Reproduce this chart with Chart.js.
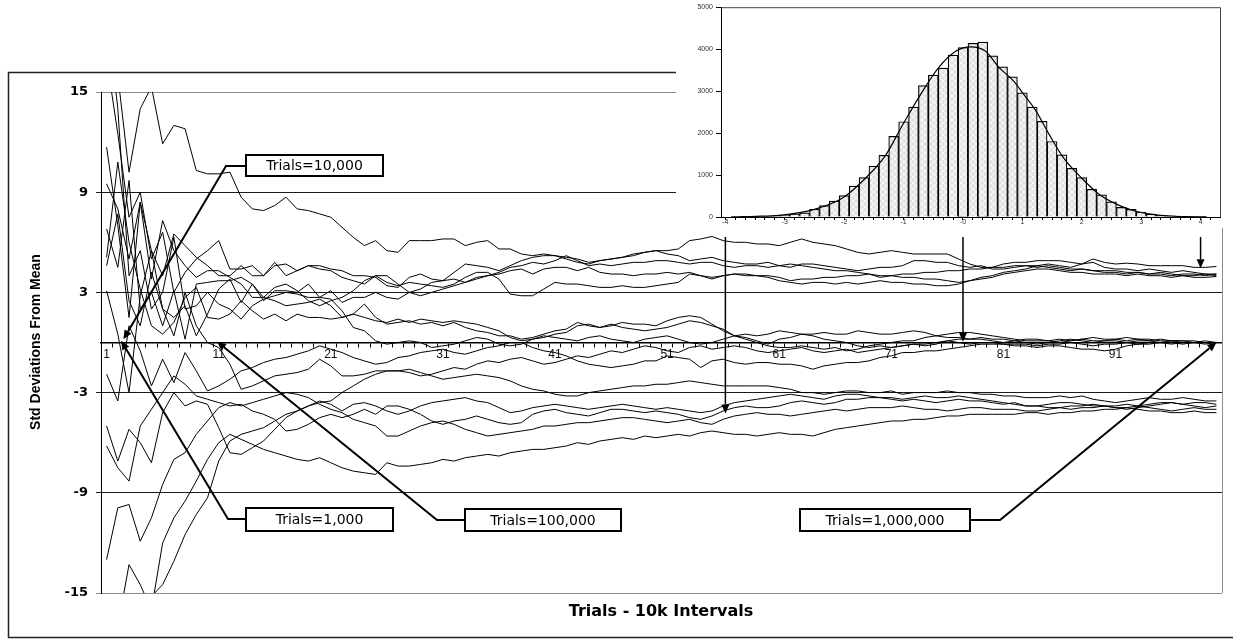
<!DOCTYPE html>
<html><head><meta charset="utf-8">
<script src="https://cdn.jsdelivr.net/npm/chart.js@4.4.1/dist/chart.umd.min.js"></script>
<style>
html,body{margin:0;padding:0;background:#fff;width:1233px;height:640px;overflow:hidden}
#main{position:absolute;left:0;top:0}
#insetWrap{position:absolute;left:676px;top:0;width:557px;height:228px;background:#fff}
#inset{position:absolute;left:0;top:0}
</style></head><body>
<canvas id="main" width="1233" height="640"></canvas>
<div id="insetWrap"><canvas id="inset" width="557" height="228"></canvas></div>
<script>
// ---------- main chart data ----------
const categories = [1,2,3,4,5,6,7,8,9,10,11,12,13,14,15,16,17,18,19,20,21,22,23,24,25,26,27,28,29,30,31,32,33,34,35,36,37,38,39,40,41,42,43,44,45,46,47,48,49,50,51,52,53,54,55,56,57,58,59,60,61,62,63,64,65,66,67,68,69,70,71,72,73,74,75,76,77,78,79,80,81,82,83,84,85,86,87,88,89,90,91,92,93,94,95,96,97,98,99,100];
const xTickLabels = ['1','11','21','31','41','51','61','71','81','91'];
const yTickLabels = {'-15':'-15','-9':'-9','-3':'-3','3':'3','9':'9','15':'15'};

const U1 = [19,16,10.2,14,15.3,11.9,13.0,12.8,10.3,10.1, 10.1,10.2,8.7,8.0,7.9,8.2,8.7,8.0,7.9,7.7, 7.5,6.9,6.3,5.8,6.1,5.5,5.4,6.1,6.1,6.1, 6.2,6.2,5.8,6.0,6.1,5.6,5.6,5.3,5.2,5.3, 5.2,5.0,4.8,4.7,4.9,5.0,5.1,5.3,5.4,5.5, 5.5,5.6,6.1,6.2,6.35,6.1,6.0,6.0,5.9,5.9, 5.8,6.0,6.2,6.0,5.9,5.8,5.6,5.4,5.3,5.4, 5.5,5.4,5.3,5.3,5.3,5.3,5.0,4.7,4.5,4.5, 4.7,4.8,4.8,4.9,4.9,4.9,4.8,4.7,5.0,4.8, 4.7,4.75,4.7,4.6,4.6,4.6,4.6,4.5,4.5,4.55];
const U2 = [9.5,8.0,5.0,8.4,5.5,4.0,6.5,5.8,5.1,4.6, 4.0,4.0,4.6,4.0,4.0,4.8,4.0,4.3,4.6,4.6, 4.4,4.3,4.0,4.0,3.9,3.4,3.3,3.9,4.1,3.8, 3.7,4.2,4.7,4.6,4.5,4.3,4.6,4.9,5.1,5.2, 5.2,5.1,5.0,4.8,4.9,5.0,5.1,5.2,5.4,5.5, 5.3,5.2,4.9,5.0,5.1,4.9,4.8,4.7,4.7,4.8, 4.6,4.5,4.7,4.7,4.6,4.5,4.4,4.3,4.4,4.5, 4.5,4.6,4.9,4.9,4.8,4.8,4.6,4.5,4.6,4.4, 4.4,4.5,4.6,4.6,4.7,4.6,4.5,4.7,4.8,4.5, 4.4,4.4,4.3,4.4,4.3,4.2,4.3,4.2,4.1,4.1];
const U3 = [17,12.5,7.5,9.0,5.0,6.6,3.0,4.2,5.0,5.5, 6.1,4.4,4.4,4.6,4.0,4.6,4.7,4.3,4.6,4.4, 4.3,3.9,3.7,3.5,4.0,4.0,3.5,3.0,2.8,3.0, 3.2,3.4,3.6,3.9,4.0,4.1,4.3,4.4,4.1,4.4, 4.5,4.5,4.3,4.5,4.2,4.1,4.1,4.0,4.1,4.1, 4.2,4.1,4.2,4.0,3.9,4.0,4.1,4.1,4.0,4.0, 3.9,3.7,3.8,3.8,3.9,3.9,4.0,4.0,4.1,3.9, 4.0,4.1,4.1,4.2,4.2,4.3,4.3,4.4,4.4,4.5, 4.5,4.6,4.6,4.5,4.6,4.5,4.4,4.4,4.3,4.3, 4.3,4.2,4.2,4.1,4.2,4.1,4.0,4.0,4.1,4.0];
const U4 = [6.8,4.5,9.7,2.0,3.0,1.0,3.1,0.2,3.5,3.6, 3.7,3.7,3.9,3.5,2.7,3.3,3.5,3.1,2.5,2.2, 2.5,2.7,3.1,3.7,4.0,3.6,3.4,3.6,3.5,3.4, 3.3,3.5,3.9,4.2,4.2,3.8,2.9,2.8,2.8,3.2, 3.6,3.5,3.5,3.4,3.3,3.3,3.4,3.3,3.3,3.4, 3.5,3.6,4.1,4.0,3.8,4.0,4.1,4.0,4.0,3.9, 3.7,3.6,3.5,3.6,3.6,3.5,3.6,3.5,3.6,3.7, 3.6,3.6,3.5,3.5,3.4,3.4,3.5,3.7,3.8,3.9, 4.1,4.2,4.3,4.4,4.4,4.3,4.2,4.2,4.1,4.1, 4.1,4.0,4.1,4.0,4.0,3.9,4.0,3.9,3.9,3.95];
const U5 = [4.6,7.7,2.5,1.0,4.2,2.0,1.5,2.2,0.4,1.7, 3.2,3.8,2.4,3.5,2.5,3.1,3.1,3.0,3.5,2.7, 3.1,2.4,2.7,2.7,3.0,2.7,2.6,3.0,3.2,3.6, 3.7,3.8,3.6,3.8,4.0,4.2,4.5,4.6,4.8,4.7, 4.9,5.2,4.9,4.6,4.7,4.6,4.7,4.8,4.8,4.9, 4.9,4.8,4.7,4.8,4.8,4.6,4.5,4.6,4.6,4.5, 4.6,4.7,4.6,4.5,4.4,4.3,4.3,4.2,4.1,4.0, 4.0,3.9,3.9,3.8,3.8,3.7,3.6,3.7,3.9,4.0, 4.2,4.3,4.4,4.6,4.5,4.4,4.3,4.4,4.3,4.2, 4.2,4.1,4.2,4.1,4.1,4.0,4.1,4.1,4.0,4.1];
const M1 = [11.7,7.0,1.5,8.4,3.8,7.3,5.5,4.6,3.9,4.3, 4.3,3.9,3.5,2.7,2.7,2.5,2.2,2.3,2.4,2.6, 2.2,1.5,1.7,2.3,1.5,1.1,1.2,1.3,1.1,1.2, 1.0,1.2,0.9,0.7,0.6,0.4,0.4,0.2,0.3,0.5, 0.7,0.8,1.2,1.0,0.9,1.1,0.9,0.8,0.7,0.8, 0.9,1.1,1.3,1.2,1.0,0.8,0.4,0.2,0.0,-0.2, -0.3,-0.3,-0.2,-0.3,-0.4,-0.3,-0.5,-0.4,-0.2,-0.1, 0.0,0.1,0.1,0.3,0.4,0.5,0.6,0.6,0.5,0.4, 0.3,0.2,0.1,0.1,0.1,0.2,0.1,0.2,0.3,0.2, 0.2,0.3,0.2,0.2,0.1,0.1,0.1,0.1,0.0,0.0];
const M2 = [5.1,10.8,6.0,3.2,1.0,0.5,1.2,2.7,3.3,1.5, 1.4,1.7,2.5,1.9,1.4,1.7,1.3,1.7,1.5,1.5, 1.4,1.5,1.7,1.5,1.3,1.2,1.4,1.2,1.4,1.3, 1.2,1.3,1.2,1.1,0.9,0.7,0.3,0.1,0.2,0.3, 0.5,0.6,1.0,1.1,0.9,1.0,1.2,1.1,1.1,1.0, 1.3,1.5,1.6,1.5,1.1,0.7,0.4,0.3,0.1,-0.1, 0.2,0.3,0.5,0.5,0.6,0.5,0.5,0.7,0.6,0.5, 0.5,0.6,0.7,0.6,0.4,0.3,0.3,0.2,0.2,0.1, 0.0,0.1,0.2,0.2,0.1,0.0,0.1,0.2,0.1,0.1, 0.1,0.0,0.1,0.1,0.2,0.1,0.1,0.0,0.1,0.0];
const M3 = [3.1,0.5,-3.0,2.8,5.5,2.0,0.4,3.0,1.0,0.0, -0.3,-1.3,-2.8,-2.6,-2.3,-2.0,-1.9,-1.8,-1.6,-1.0, -1.4,-2.0,-2.0,-1.9,-1.7,-1.7,-1.7,-1.8,-2.0,-1.9, -1.7,-1.5,-1.6,-1.3,-1.1,-1.2,-1.0,-0.9,-1.1,-1.3, -1.2,-1.0,-0.8,-0.9,-0.7,-0.5,-0.6,-0.4,-0.2,-0.3, -0.5,-0.6,-0.3,-0.2,-0.4,-0.3,-0.2,-0.3,-0.5,-0.6, -0.5,-0.4,-0.3,-0.5,-0.6,-0.5,-0.4,-0.6,-0.5,-0.4, -0.3,-0.2,-0.1,-0.1,0.0,0.1,0.0,-0.1,0.0,0.0, -0.1,-0.2,-0.2,-0.3,-0.2,-0.2,-0.3,-0.4,-0.4,-0.5, -0.4,-0.2,-0.1,-0.1,0.0,0.0,-0.1,0.0,0.0,0.0];
const M4 = [20,14,4.0,5.5,2.0,3.0,6.3,2.0,2.2,3.0, 2.3,2.0,1.4,2.2,2.6,2.8,3.0,2.9,2.7,2.7, 2.6,1.9,0.9,0.7,0.1,-0.1,0.0,0.1,0.0,-0.3, -0.2,-0.1,0.1,0.3,0.2,-0.1,-0.2,-0.1,0.2,0.4, 0.3,0.2,0.1,0.3,0.4,0.2,0.1,0.0,0.2,0.3, 0.4,0.2,0.0,-0.1,0.0,0.2,0.4,0.5,0.4,0.5, 0.7,0.6,0.5,0.4,0.2,0.1,0.0,-0.2,-0.3,-0.2, -0.3,-0.2,-0.1,-0.2,-0.1,0.1,0.2,0.2,0.3,0.2, 0.2,0.1,0.0,-0.1,0.0,0.1,0.2,0.1,0.0,0.1, 0.2,0.1,0.2,0.1,0.0,0.1,0.0,0.0,-0.1,0.0];
const M5 = [-1.9,-3.5,1.0,-0.5,-2.6,-1.0,-2.4,-0.6,-1.7,-2.9, -2.6,-2.2,-1.7,-1.5,-1.2,-1.0,-0.9,-0.7,-0.5,-0.2, -0.4,-0.6,-0.9,-1.1,-1.3,-1.2,-0.9,-0.8,-0.6,-0.5, -0.4,-0.6,-0.7,-0.5,-0.3,-0.2,0.0,0.0,-0.3,-0.5, -0.6,-0.8,-1.1,-1.3,-1.4,-1.5,-1.4,-1.3,-1.1,-1.1, -0.8,-0.9,-1.0,-1.5,-1.1,-1.0,-1.2,-1.3,-1.2,-1.2, -1.3,-1.3,-1.4,-1.6,-1.4,-1.3,-1.2,-1.2,-1.1,-0.9, -0.8,-0.6,-0.6,-0.5,-0.5,-0.4,-0.3,-0.2,-0.1,-0.1, -0.1,-0.1,-0.1,-0.2,-0.1,-0.1,0.0,-0.1,-0.2,-0.1, -0.1,0.0,-0.1,0.0,0.0,-0.1,0.0,0.0,0.0,0.0];
const L1 = [-15.5,-20,-18,-17,-15.2,-14.5,-13.1,-11.5,-10.3,-9.3, -7.1,-5.9,-5.5,-5.3,-5.1,-4.7,-4.3,-4.1,-3.8,-3.6, -3.5,-3.0,-2.6,-2.2,-1.9,-1.7,-1.7,-1.6,-1.8,-2.0, -2.2,-2.1,-2.0,-1.9,-2.0,-2.1,-2.3,-2.6,-2.8,-2.9, -3.1,-3.2,-3.2,-3.0,-2.9,-2.8,-2.7,-2.6,-2.6,-2.5, -2.5,-2.4,-2.3,-2.4,-2.5,-2.6,-2.6,-2.6,-2.6,-2.6, -2.7,-2.8,-3.0,-3.0,-3.1,-3.0,-2.9,-2.9,-3.0,-3.0, -2.9,-3.1,-3.0,-3.0,-3.0,-2.9,-3.0,-3.0,-3.1,-3.1, -3.2,-3.2,-3.3,-3.3,-3.3,-3.2,-3.3,-3.2,-3.4,-3.5, -3.6,-3.5,-3.4,-3.3,-3.4,-3.4,-3.3,-3.4,-3.5,-3.5];
const L2 = [-6.2,-7.5,-8.3,-5.0,-4.0,-3.0,-2.0,-2.5,-3.2,-3.4, -3.6,-3.8,-3.7,-4.1,-4.3,-4.6,-5.3,-5.2,-4.9,-4.5, -4.3,-4.5,-4.3,-4.0,-4.3,-3.8,-3.8,-4.0,-4.3,-4.7, -4.9,-4.7,-4.6,-4.4,-4.6,-4.8,-4.9,-4.8,-4.3,-4.1, -4.0,-4.2,-4.3,-4.4,-4.2,-4.0,-4.0,-4.1,-4.2,-4.1, -4.2,-4.3,-4.5,-4.6,-4.4,-4.1,-3.9,-3.8,-3.9,-3.9, -3.8,-3.6,-3.5,-3.6,-3.7,-3.6,-3.4,-3.4,-3.3,-3.3, -3.4,-3.5,-3.4,-3.5,-3.6,-3.5,-3.4,-3.5,-3.5,-3.6, -3.7,-3.6,-3.8,-3.8,-3.7,-3.6,-3.6,-3.7,-3.8,-3.8, -3.9,-4.0,-3.9,-3.8,-3.7,-3.6,-3.7,-3.8,-3.9,-3.8];
const L3 = [-5.0,-7.1,-5.2,-6.0,-7.2,-4.2,-3.0,-3.8,-3.5,-3.7, -5.1,-6.6,-6.7,-6.3,-5.9,-5.2,-4.5,-4.1,-3.8,-3.5, -3.7,-4.1,-3.7,-3.6,-3.8,-4.1,-4.3,-4.1,-3.8,-3.6, -3.5,-3.4,-3.3,-3.5,-3.6,-3.9,-4.2,-4.1,-3.9,-3.8, -3.7,-3.8,-3.9,-4.0,-3.9,-3.8,-3.7,-3.8,-3.9,-4.0, -3.9,-4.0,-4.1,-4.2,-4.1,-3.8,-3.6,-3.5,-3.4,-3.3, -3.2,-3.1,-3.2,-3.3,-3.4,-3.2,-3.1,-3.1,-3.2,-3.3, -3.3,-3.4,-3.3,-3.2,-3.3,-3.3,-3.2,-3.3,-3.4,-3.5, -3.6,-3.7,-3.8,-3.8,-3.9,-3.9,-4.0,-3.9,-3.9,-3.8, -3.8,-3.7,-3.8,-3.9,-4.0,-4.1,-4.0,-3.9,-4.0,-4.0];
const L4 = [-13.0,-9.9,-9.7,-11.9,-10.5,-8.5,-7.0,-6.6,-5.5,-4.7, -3.9,-3.6,-3.8,-3.6,-3.4,-3.2,-3.0,-3.1,-3.3,-3.7, -4.0,-4.2,-4.6,-4.8,-5.0,-5.6,-5.6,-5.3,-5.0,-4.8, -4.7,-4.9,-5.2,-5.4,-5.6,-5.5,-5.4,-5.3,-5.2,-5.0, -5.0,-4.9,-4.8,-4.8,-4.7,-4.6,-4.5,-4.5,-4.6,-4.7, -4.8,-4.7,-4.6,-4.8,-4.9,-4.6,-4.4,-4.3,-4.2,-4.3, -4.3,-4.4,-4.3,-4.2,-4.1,-4.0,-4.1,-4.0,-3.9,-3.9, -3.9,-3.8,-3.9,-4.0,-4.0,-4.1,-4.0,-3.9,-3.9,-4.0, -4.0,-4.0,-4.1,-4.1,-4.0,-3.9,-3.8,-3.8,-3.7,-3.8, -3.9,-3.9,-3.8,-3.7,-3.6,-3.6,-3.7,-3.6,-3.6,-3.7];
const L5 = [-20,-17,-13.3,-14.5,-16,-12.0,-10.5,-9.5,-8.3,-7.0, -6.0,-5.5,-5.8,-6.1,-6.4,-6.6,-6.8,-7.0,-7.1,-6.9, -7.2,-7.5,-7.7,-7.8,-7.9,-7.2,-7.4,-7.4,-7.3,-7.2, -7.0,-7.1,-6.9,-6.8,-6.7,-6.8,-6.6,-6.5,-6.4,-6.4, -6.3,-6.2,-6.0,-6.1,-5.9,-5.8,-5.7,-5.8,-5.6,-5.7, -5.6,-5.5,-5.6,-5.4,-5.3,-5.4,-5.5,-5.5,-5.6,-5.5, -5.4,-5.5,-5.5,-5.6,-5.4,-5.2,-5.1,-5.0,-4.9,-4.8, -4.7,-4.7,-4.6,-4.6,-4.5,-4.4,-4.4,-4.3,-4.3,-4.3, -4.3,-4.3,-4.2,-4.2,-4.3,-4.2,-4.2,-4.1,-4.1,-4.0, -4.0,-3.9,-4.0,-4.1,-4.1,-4.2,-4.2,-4.1,-4.2,-4.2];

// ---------- inset histogram data ----------
const binCenters = [-3.5,-3.333,-3.167,-3.0,-2.833,-2.667,-2.5,-2.333,-2.167,-2.0,-1.833,-1.667,-1.5,-1.333,-1.167,-1.0,-0.833,-0.667,-0.5,-0.333,-0.167,0.0,0.167,0.333,0.5,0.667,0.833,1.0,1.167,1.333,1.5,1.667,1.833,2.0,2.167,2.333,2.5,2.667,2.833,3.0,3.167,3.333,3.5,3.667,3.833,4.0];
const binCounts = [5,10,25,40,75,100,185,270,380,510,735,940,1210,1470,1920,2270,2620,3130,3380,3550,3860,4040,4140,4170,3840,3580,3340,2960,2620,2280,1800,1480,1160,940,660,530,360,230,180,120,70,40,25,10,5,2];
const curveX = [-3.9,-3.78,-3.49,-3.1,-2.5,-2.02,-1.66,-1.31,-1.01,-0.71,-0.41,-0.11,0.13,0.37,0.61,0.85,1.0,1.21,1.45,1.69,1.99,2.29,2.59,2.89,3.19,3.49,3.78,4.1];
const curveY = [3,6,15,40,183,460,900,1455,2210,2930,3560,3960,4055,3960,3560,3245,2965,2570,1970,1415,940,540,300,143,64,24,8,3];
const insetXLabels = ['-4','-3','-2','-1','-0','1','2','3','4'];
const insetYLabels = ['0','1000','2000','3000','4000','5000'];

// ---------- text ----------
const xTitle = 'Trials - 10k Intervals';
const yTitle = 'Std Deviations From Mean';
const boxTexts = ['Trials=10,000','Trials=1,000','Trials=100,000','Trials=1,000,000'];

const family = 'Arial, "Liberation Sans", sans-serif';

// ---------- inset chart ----------
function makeHatch(ctx){
  const c=document.createElement('canvas'); c.width=6; c.height=6;
  const g=c.getContext('2d');
  g.fillStyle='#e3e3e3'; g.fillRect(0,0,6,6);
  g.strokeStyle='#ffffff'; g.lineWidth=0.8;
  g.beginPath(); g.moveTo(0,0); g.lineTo(6,6); g.moveTo(6,0); g.lineTo(0,6); g.stroke();
  return ctx.createPattern(c,'repeat');
}
const insetCtx = document.getElementById('inset').getContext('2d');
const minorTicks = []; for(let k=-24;k<=25;k++){ minorTicks.push(k/6); }

const insetBorder = {
  id:'insetBorder',
  afterDraw(chart){
    const c=chart.ctx, a=chart.chartArea;
    c.save(); c.strokeStyle='#444'; c.lineWidth=1;
    c.beginPath(); c.moveTo(a.left, a.top+0.5); c.lineTo(a.right+0.5, a.top+0.5); c.lineTo(a.right+0.5, a.bottom); c.stroke();
    c.restore();
  }
};

const insetChart = new Chart(insetCtx, {
  type:'bar',
  data:{ datasets:[
    {type:'line', data: curveX.map((x,i)=>({x:x,y:curveY[i]})), borderColor:'#000', borderWidth:1.2, pointRadius:0, cubicInterpolationMode:'monotone', order:0},
    {type:'bar', data: binCenters.map((x,i)=>({x:x,y:binCounts[i]})), backgroundColor: makeHatch(insetCtx), borderColor:'#000', borderWidth:1.2, barPercentage:1, categoryPercentage:1, order:1}
  ]},
  options:{
    responsive:false, animation:false, events:[], devicePixelRatio:1,
    layout:{padding:{left:0,top:6,right:13,bottom:0}},
    plugins:{legend:{display:false}, tooltip:{enabled:false}},
    scales:{
      x:{ type:'linear', min:-4.074, max:4.327, offset:false,
          afterBuildTicks: s => { s.ticks = minorTicks.map(v=>({value:v})); },
          ticks:{ autoSkip:false, maxRotation:0, padding:-2, color:'#333', font:{family:family,size:7},
                  callback:(v)=>{ const r=Math.round(v); return Math.abs(v-r)<1e-6 ? insetXLabels[r+4] : ''; } },
          grid:{ drawOnChartArea:false, offset:false, tickLength:3, color:'#000' },
          border:{ color:'#000', width:1 },
          afterFit: s => { s.height = 11; } },
      y:{ min:0, max:5000,
          ticks:{ stepSize:1000, color:'#333', font:{family:family,size:7}, padding:3, callback:(v)=>insetYLabels[Math.round(v/1000)] },
          grid:{ drawOnChartArea:false, tickLength:5, color:'#000' },
          border:{ color:'#000', width:1 },
          afterFit: s => { s.width = 45; } }
    }
  },
  plugins:[insetBorder]
});

// ---------- main chart ----------
const INSET_LEFT = 676;
function arrow(c, pts, lw){
  c.lineWidth=lw; c.strokeStyle='#000'; c.fillStyle='#000';
  const n=pts.length; const [x1,y1]=pts[n-2], [x2,y2]=pts[n-1];
  const ang=Math.atan2(y2-y1,x2-x1), L=9, W=4;
  const bx=x2-L*Math.cos(ang), by=y2-L*Math.sin(ang);
  c.beginPath(); c.moveTo(pts[0][0],pts[0][1]);
  for(let i=1;i<n-1;i++) c.lineTo(pts[i][0],pts[i][1]);
  c.lineTo(bx,by); c.stroke();
  c.beginPath(); c.moveTo(x2,y2);
  c.lineTo(bx+W*Math.sin(ang), by-W*Math.cos(ang));
  c.lineTo(bx-W*Math.sin(ang), by+W*Math.cos(ang));
  c.closePath(); c.fill();
}
function textBox(c, x, y, w, h, txt){
  c.fillStyle='#fff'; c.fillRect(x,y,w,h);
  c.strokeStyle='#000'; c.lineWidth=2; c.strokeRect(x,y,w,h);
  c.fillStyle='#000'; c.font='14px "DejaVu Sans", sans-serif'; c.textAlign='center'; c.textBaseline='middle';
  c.fillText(txt, x+w/2, y+h/2+1);
}
const annot = {
  id:'annot',
  afterDraw(chart){
    const c=chart.ctx, a=chart.chartArea, xs=chart.scales.x, ys=chart.scales.y;
    c.save();
    // plot-area right border
    c.strokeStyle='#8c8c8c'; c.lineWidth=1;
    c.beginPath(); c.moveTo(a.right+0.5,a.top); c.lineTo(a.right+0.5,a.bottom); c.stroke();
    // outer frame
    c.strokeStyle='#222'; c.lineWidth=1.5; c.strokeRect(8.5,72.5,1240,565);
    // axis titles
    c.fillStyle='#000'; c.textAlign='center'; c.textBaseline='middle';
    c.font='bold 16px "DejaVu Sans", sans-serif';
    c.fillText(xTitle, 661, 612);
    c.save(); c.translate(36,342); c.rotate(-Math.PI/2);
    c.font='bold 14px '+family; c.fillText(yTitle,0,0); c.restore();
    // vertical arrows from histogram
    const ix = insetChart.scales.x;
    arrow(c, [[INSET_LEFT+ix.getPixelForValue(-4),237],[INSET_LEFT+ix.getPixelForValue(-4),ys.getPixelForValue(-4.25)]], 1.5);
    arrow(c, [[INSET_LEFT+ix.getPixelForValue(0),237],[INSET_LEFT+ix.getPixelForValue(0),ys.getPixelForValue(0.05)]], 1.5);
    arrow(c, [[INSET_LEFT+ix.getPixelForValue(4),237],[INSET_LEFT+ix.getPixelForValue(4),ys.getPixelForValue(4.45)]], 1.5);
    // leader arrows
    arrow(c, [[246,166],[226,166],[xs.getPixelForValue(1.5),ys.getPixelForValue(0.2)]], 2);
    arrow(c, [[246,519],[228,519],[xs.getPixelForValue(1.3),ys.getPixelForValue(0.1)]], 2);
    arrow(c, [[465,520],[437,520],[xs.getPixelForValue(9.85),ys.getPixelForValue(0.05)]], 2);
    arrow(c, [[970,520],[1000,520],[xs.getPixelForValue(99),ys.getPixelForValue(0)]], 2);
    // boxes
    textBox(c, 246,155,137,21, boxTexts[0]);
    textBox(c, 246,508,147,23, boxTexts[1]);
    textBox(c, 465,509,156,22, boxTexts[2]);
    textBox(c, 800,509,170,22, boxTexts[3]);
    c.restore();
  }
};

const series = [U1,U2,U3,U4,U5,M1,M2,M3,M4,M5,L1,L2,L3,L4,L5];
new Chart(document.getElementById('main').getContext('2d'), {
  type:'line',
  data:{ labels: categories, datasets: series.map(d=>({data:d, borderColor:'#000', borderWidth:1, pointRadius:0, fill:false, tension:0})) },
  options:{
    responsive:false, animation:false, events:[], devicePixelRatio:1,
    layout:{padding:{left:0,top:92,right:11,bottom:47}},
    plugins:{legend:{display:false}, tooltip:{enabled:false}},
    scales:{
      x:{ type:'category', offset:true, position:{y:0},
          grid:{ offset:true, drawOnChartArea:false, tickLength:4, color:'#000', tickWidth:1 },
          border:{ display:true, color:'#000', width:1.5 },
          ticks:{ autoSkip:false, maxRotation:0, minRotation:0, padding:1, color:'#111', font:{family:family,size:12},
                  callback:(v,i)=>{ const lab=String(categories[i]); return xTickLabels.includes(lab)?lab:''; } },
          afterFit: s => { s.height = 0; } },
      y:{ min:-15, max:15,
          ticks:{ stepSize:6, color:'#000', padding:8, font:{family:'"DejaVu Sans", sans-serif', size:13, weight:'bold'},
                  callback:(v)=>yTickLabels[String(v)] },
          grid:{ color:(ctx)=> (ctx.tick && Math.abs(ctx.tick.value)===15) ? '#8c8c8c' : '#1a1a1a', lineWidth:1, tickLength:5 },
          border:{ color:'#000', width:1 },
          afterFit: s => { s.width = 101; } }
    }
  },
  plugins:[annot]
});
</script></body></html>
